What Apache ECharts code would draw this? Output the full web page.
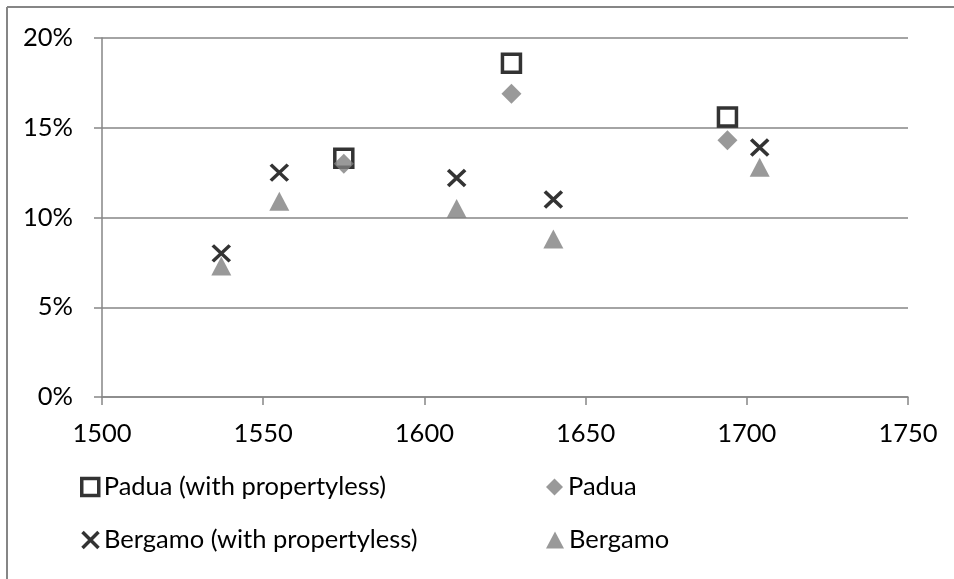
<!DOCTYPE html>
<html><head><meta charset="utf-8">
<script src="https://cdn.jsdelivr.net/npm/echarts@6/dist/echarts.min.js"></script>
<style>html,body{margin:0;padding:0;background:#fff}#c{width:954px;height:579px}</style>
</head><body><div id="c"></div>
<script>
const xTicks = [1500, 1550, 1600, 1650, 1700, 1750];
const yTicks = [0, 5, 10, 15, 20];
const paduaPropYears = [1575, 1627, 1694];
const paduaPropValues = [13.3, 18.6, 15.6];
const paduaYears = [1575, 1627, 1694];
const paduaValues = [13.0, 16.9, 14.3];
const bergamoPropYears = [1537, 1555, 1610, 1640, 1704];
const bergamoPropValues = [8.0, 12.5, 12.2, 11.0, 13.9];
const bergamoYears = [1537, 1555, 1610, 1640, 1704];
const bergamoValues = [7.3, 10.9, 10.5, 8.8, 12.8];
const names = ['Padua (with propertyless)', 'Padua', 'Bergamo (with propertyless)', 'Bergamo'];

const zip = (a, b) => a.map((v, i) => [v, b[i]]);
const FONT = 'Lato, "Open Sans", sans-serif';
const FS = 25.5;
const xPath = 'path://M0,0L10,10M10,0L0,10';
const GRAY = '#868686';

function oneLegend(item, left, centerY, w, h) {
  return {
    orient: 'horizontal', left: left, top: centerY - 14, padding: 0,
    itemWidth: w, itemHeight: h,
    textStyle: {fontSize: FS, color: '#000', fontFamily: FONT, lineHeight: 28},
    data: [item]
  };
}

const chart = echarts.init(document.getElementById('c'), null, {renderer: 'canvas'});
chart.setOption({
  animation: false,
  backgroundColor: '#fff',
  textStyle: {fontFamily: FONT},
  graphic: [
    {type: 'line', shape: {x1: 7, y1: 7, x2: 954, y2: 7}, style: {stroke: GRAY, lineWidth: 2}, silent: true},
    {type: 'line', shape: {x1: 7, y1: 7, x2: 7, y2: 579}, style: {stroke: GRAY, lineWidth: 2}, silent: true}
  ],
  grid: {left: 102, right: 46, top: 38, bottom: 182, containLabel: false},
  xAxis: {
    type: 'value', min: xTicks[0], max: xTicks[xTicks.length - 1], interval: 50,
    axisLine: {lineStyle: {color: GRAY, width: 1.5}},
    axisTick: {show: true, length: 8, lineStyle: {color: GRAY, width: 1.5}},
    splitLine: {show: false},
    axisLabel: {color: '#000', fontSize: FS, margin: 24, fontFamily: FONT, formatter: v => String(v)}
  },
  yAxis: {
    type: 'value', min: yTicks[0], max: yTicks[yTicks.length - 1], interval: 5,
    axisLine: {show: true, lineStyle: {color: GRAY, width: 1.5}},
    axisTick: {show: true, length: 8, lineStyle: {color: GRAY, width: 1.5}},
    splitLine: {show: true, lineStyle: {color: GRAY, width: 1.5}},
    axisLabel: {color: '#000', fontSize: FS, margin: 29, fontFamily: FONT, formatter: '{value}%'}
  },
  legend: [
    oneLegend({name: names[0], icon: 'rect', itemStyle: {color: '#fff', borderColor: '#000', borderWidth: 3.5}}, 80, 487, 17, 17),
    oneLegend({name: names[2], icon: xPath, itemStyle: {color: 'none', borderColor: '#000', borderWidth: 3.5}}, 80, 540, 17, 16),
    oneLegend({name: names[1], icon: 'diamond', itemStyle: {color: '#808080'}}, 546, 487, 17, 17),
    oneLegend({name: names[3], icon: 'triangle', itemStyle: {color: '#808080'}}, 546, 540, 18, 17)
  ],
  series: [
    {name: names[0], type: 'scatter', symbol: 'rect', symbolSize: 18, z: 2,
      itemStyle: {color: 'rgba(255,255,255,0)', borderColor: '#000', borderWidth: 3.5},
      data: zip(paduaPropYears, paduaPropValues)},
    {name: names[1], type: 'scatter', symbol: 'diamond', symbolSize: 20, z: 3,
      itemStyle: {color: '#808080'},
      data: zip(paduaYears, paduaValues)},
    {name: names[2], type: 'scatter', symbol: xPath, symbolSize: [17, 16], z: 4,
      itemStyle: {color: 'none', borderColor: '#000', borderWidth: 3.5},
      data: zip(bergamoPropYears, bergamoPropValues)},
    {name: names[3], type: 'scatter', symbol: 'triangle', symbolSize: [20, 19], z: 3,
      itemStyle: {color: '#808080'},
      data: zip(bergamoYears, bergamoValues)}
  ]
});
</script></body></html>
